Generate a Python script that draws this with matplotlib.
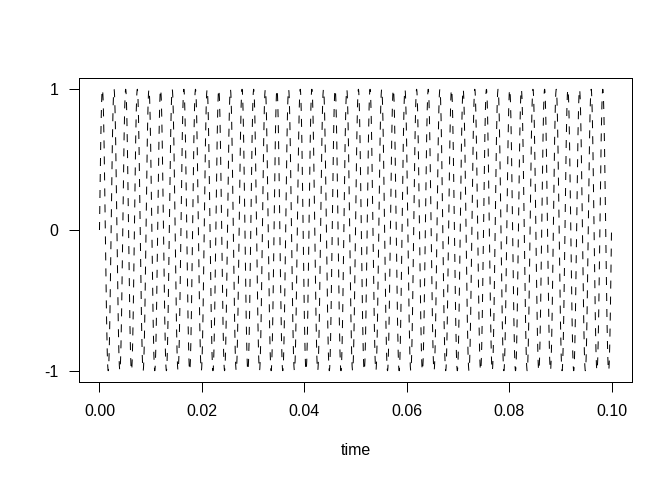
import numpy as np
import matplotlib
matplotlib.use("Agg")
import matplotlib.pyplot as plt

# Data: a 440 Hz tone sampled over the first 0.1 s
freq_hz = 440.0
sample_rate = 44100
duration_s = 0.1
amplitude = 1.0
time = np.arange(0, int(sample_rate * duration_s) + 1) / sample_rate
signal = amplitude * np.sin(2 * np.pi * freq_hz * time)

x_ticks = [0.00, 0.02, 0.04, 0.06, 0.08, 0.10]
x_tick_labels = ["0.00", "0.02", "0.04", "0.06", "0.08", "0.10"]
y_ticks = [-1, 0, 1]
y_tick_labels = ["-1", "0", "1"]

plt.rcParams["font.family"] = ["Liberation Sans", "DejaVu Sans"]

fig = plt.figure(figsize=(7, 5), dpi=96)
ax = fig.add_axes([79 / 672, 1 - 382 / 480, (632 - 79) / 672, (382 - 78) / 480])

ax.plot(time, signal, color="black", lw=0.75, ls=(0, (8, 8)))

xr = time.max() - time.min()
ax.set_xlim(time.min() - 0.04 * xr, time.max() + 0.04 * xr)
yr = signal.max() - signal.min()
ax.set_ylim(signal.min() - 0.04 * yr, signal.max() + 0.04 * yr)

ax.set_xticks(x_ticks)
ax.set_xticklabels(x_tick_labels)
ax.set_yticks(y_ticks)
ax.set_yticklabels(y_tick_labels)

ax.tick_params(axis="both", direction="out", length=7.5, width=0.75,
               labelsize=12, color="black")
ax.tick_params(axis="x", pad=9)
ax.tick_params(axis="y", pad=8)

for s in ax.spines.values():
    s.set_linewidth(0.75)
    s.set_color("black")

ax.set_xlabel("time", fontsize=12, labelpad=18)

fig.savefig("out.png", dpi=96)
